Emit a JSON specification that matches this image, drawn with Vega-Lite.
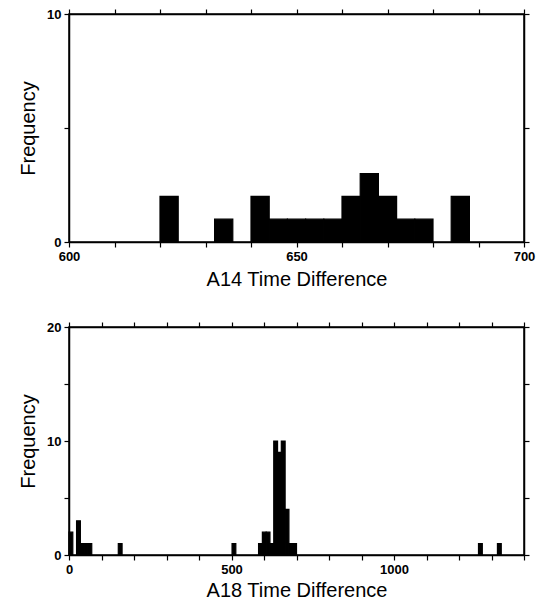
{
  "$schema": "https://vega.github.io/schema/vega-lite/v6.json",
  "padding": {"left": 17, "top": 7, "right": 5, "bottom": 0},
  "background": "white",
  "config": {
    "font": "Liberation Sans",
    "view": {"stroke": "black", "strokeWidth": 1.5},
    "axis": {
      "domainColor": "black", "tickColor": "black", "labelColor": "black", "titleColor": "black",
      "grid": false, "labelFontSize": 13, "labelFontWeight": "bold", "titleFontSize": 20, "titleFontWeight": "normal",
      "domainWidth": 1.5, "tickWidth": 1.2, "tickSize": 5, "labelPadding": 3, "labelFlush": false, "labelOverlap": false
    }
  },
  "spacing": 30,
  "vconcat": [
    {
      "width": 455,
      "height": 228,
      "data": {"values": [
        {"a": 620, "b": 624, "n": 2},
        {"a": 632, "b": 636, "n": 1},
        {"a": 640, "b": 644, "n": 2},
        {"a": 644, "b": 648, "n": 1},
        {"a": 648, "b": 652, "n": 1},
        {"a": 652, "b": 656, "n": 1},
        {"a": 656, "b": 660, "n": 1},
        {"a": 660, "b": 664, "n": 2},
        {"a": 664, "b": 668, "n": 3},
        {"a": 668, "b": 672, "n": 2},
        {"a": 672, "b": 676, "n": 1},
        {"a": 676, "b": 680, "n": 1},
        {"a": 684, "b": 688, "n": 2}
      ]},
      "resolve": {"axis": {"x": "independent", "y": "independent"}},
      "layer": [
        {
          "mark": {"type": "rect", "color": "black", "stroke": "black", "strokeWidth": 1.2},
          "encoding": {
            "x": {"field": "a", "type": "quantitative", "scale": {"domain": [600, 700], "nice": false, "zero": false},
                  "axis": {"title": "A14 Time Difference", "titlePadding": 6, "values": [600,610,620,630,640,650,660,670,680,690,700],
                           "labelExpr": "datum.value % 50 === 0 ? datum.label : ''"}},
            "x2": {"field": "b"},
            "y": {"field": "n", "type": "quantitative", "scale": {"domain": [0, 10], "nice": false},
                  "axis": {"title": "Frequency", "titlePadding": 8, "values": [0, 5, 10],
                           "labelExpr": "datum.value % 10 === 0 ? datum.label : ''"}},
            "y2": {"datum": 0}
          }
        },
        {
          "mark": {"type": "rect", "opacity": 0},
          "encoding": {
            "x": {"field": "a", "type": "quantitative", "axis": {"orient": "top", "title": null, "labels": false, "values": [600,610,620,630,640,650,660,670,680,690,700]}},
            "x2": {"field": "b"},
            "y": {"field": "n", "type": "quantitative", "axis": {"orient": "right", "title": null, "labels": false, "values": [0, 5, 10]}},
            "y2": {"datum": 0}
          }
        }
      ]
    },
    {
      "width": 455,
      "height": 228,
      "data": {"values": [
        {"a": 0, "b": 11.7, "n": 2},
        {"a": 23.3, "b": 35, "n": 3},
        {"a": 35, "b": 46.7, "n": 1},
        {"a": 46.7, "b": 58.3, "n": 1},
        {"a": 58.3, "b": 70, "n": 1},
        {"a": 151.7, "b": 163.3, "n": 1},
        {"a": 501.7, "b": 513.3, "n": 1},
        {"a": 583.3, "b": 595, "n": 1},
        {"a": 595, "b": 606.7, "n": 2},
        {"a": 606.7, "b": 618.3, "n": 2},
        {"a": 618.3, "b": 630, "n": 1},
        {"a": 630, "b": 641.7, "n": 10},
        {"a": 641.7, "b": 653.3, "n": 9},
        {"a": 653.3, "b": 665, "n": 10},
        {"a": 665, "b": 676.7, "n": 4},
        {"a": 676.7, "b": 688.3, "n": 1},
        {"a": 688.3, "b": 700, "n": 1},
        {"a": 1260, "b": 1271.7, "n": 1},
        {"a": 1318.3, "b": 1330, "n": 1}
      ]},
      "resolve": {"axis": {"x": "independent", "y": "independent"}},
      "layer": [
        {
          "mark": {"type": "rect", "color": "black", "stroke": "black", "strokeWidth": 1.2},
          "encoding": {
            "x": {"field": "a", "type": "quantitative", "scale": {"domain": [0, 1400], "nice": false},
                  "axis": {"title": "A18 Time Difference", "titlePadding": 4, "format": "d", "values": [0,100,200,300,400,500,600,700,800,900,1000,1100,1200,1300,1400],
                           "labelExpr": "datum.value % 500 === 0 && datum.value < 1400 ? datum.label : ''"}},
            "x2": {"field": "b"},
            "y": {"field": "n", "type": "quantitative", "scale": {"domain": [0, 20], "nice": false},
                  "axis": {"title": "Frequency", "titlePadding": 8, "values": [0, 5, 10, 15, 20],
                           "labelExpr": "datum.value % 10 === 0 ? datum.label : ''"}},
            "y2": {"datum": 0}
          }
        },
        {
          "mark": {"type": "rect", "opacity": 0},
          "encoding": {
            "x": {"field": "a", "type": "quantitative", "axis": {"orient": "top", "title": null, "labels": false, "values": [0,100,200,300,400,500,600,700,800,900,1000,1100,1200,1300,1400]}},
            "x2": {"field": "b"},
            "y": {"field": "n", "type": "quantitative", "axis": {"orient": "right", "title": null, "labels": false, "values": [0, 5, 10, 15, 20]}},
            "y2": {"datum": 0}
          }
        }
      ]
    }
  ]
}
